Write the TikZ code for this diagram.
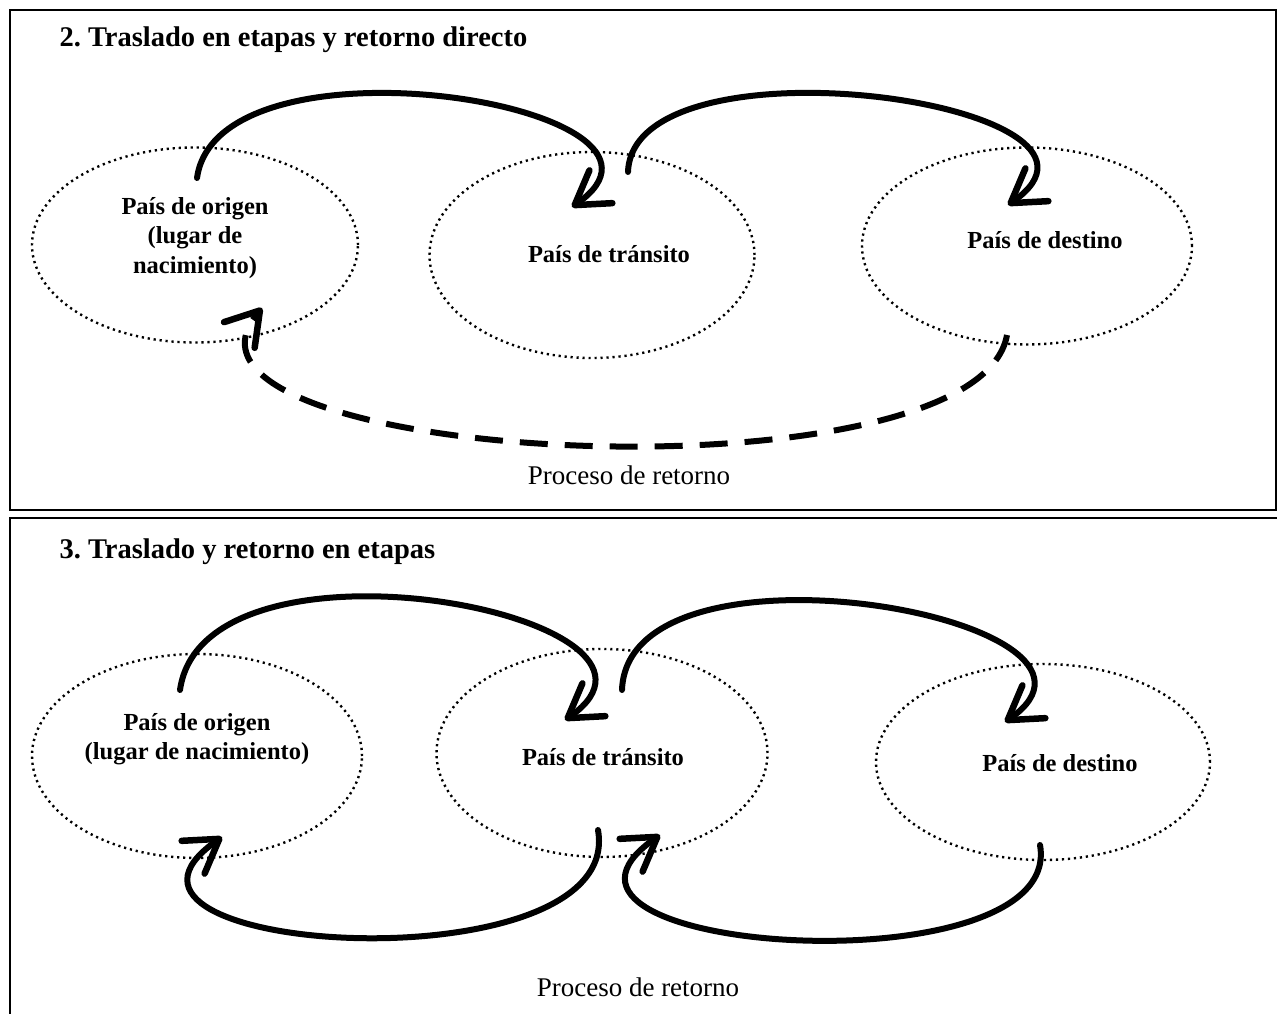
\documentclass[tikz,border=0pt]{standalone}
\usepackage{fontspec}
\setmainfont{Liberation Serif}
\usetikzlibrary{shapes.geometric,arrows.meta}

\begin{document}
\begin{tikzpicture}[x=1pt,y=1pt,
    pais/.style={ellipse,draw,line width=2.4pt,dash pattern=on 2.2pt off 3.8pt,inner sep=0pt},
    etiq/.style={font=\fontsize{24.5}{29.5}\selectfont\bfseries,align=center},
    titulo/.style={anchor=west,font=\fontsize{28.5}{33}\selectfont\bfseries\frenchspacing},
    pie/.style={font=\fontsize{27}{32}\selectfont},
    flecha/.style={line width=6pt,line cap=round,
        -{Straight Barb[length=32pt,width=40pt,line width=6.5pt,round]}},
    ida/.style={flecha,in=35,out looseness=1.05,in looseness=1.2},
    vuelta/.style={flecha,out=-80,in=215,out looseness=1.1,in looseness=1.4}]

    \useasboundingbox (0,0) rectangle (1277,1014);
    \draw [line width=1.5pt] (10,504) rectangle (1276,1004);
    \draw [line width=2.5pt] (1277,496) -- (10,496) -- (10,0);

    \node [titulo] (t2) at (56,974) {2. Traslado en etapas y retorno directo};
    \node [pais, minimum width=326pt, minimum height=195pt] (o1) at (195,769) {};
    \node [pais, minimum width=325pt, minimum height=206pt] (m1) at (592,759) {};
    \node [pais, minimum width=330pt, minimum height=197pt] (d1) at (1027,768) {};
    \node [etiq] (a) at (195,776) {País de origen\\(lugar de\\nacimiento)};
    \node [etiq] (b) at (609,760) {País de tránsito};
    \node [etiq] (c) at (1045,774) {País de destino};
    \node [pie] (p1) at (629,539) {Proceso de retorno};

    \coordinate (s1) at (197,836);
    \coordinate (e1) at (572,807);
    \coordinate (s2) at (628,842);
    \coordinate (e2) at (1008,809);
    \coordinate (s3) at (1007,679);
    \coordinate (e3) at (262,706);

    \draw [ida] (s1) to [out=82] (e1);
    \draw [ida] (s2) to [out=88,out looseness=0.95] (e2);
    \draw [flecha,line cap=butt,dash pattern=on 28pt off 17pt] (s3)
        to [out=-100,in=230,out looseness=0.6,in looseness=0.7] (e3);

    \node [titulo] (t3) at (56,462) {3. Traslado y retorno en etapas};
    \node [pais, minimum width=330pt, minimum height=204pt] (o2) at (197,258) {};
    \node [pais, minimum width=331pt, minimum height=208pt] (m2) at (602,261) {};
    \node [pais, minimum width=334pt, minimum height=196pt] (d2) at (1043,252) {};
    \node [etiq] (f) at (197,275) {País de origen\\(lugar de nacimiento)};
    \node [etiq] (g) at (603,257) {País de tránsito};
    \node [etiq] (h) at (1060,251) {País de destino};
    \node [pie] (p2) at (638,27) {Proceso de retorno};

    \coordinate (s4) at (180,324);
    \coordinate (e4) at (565,294);
    \coordinate (s5) at (622,324);
    \coordinate (e5) at (1005,292);
    \coordinate (s6) at (598,184);
    \coordinate (e6) at (222,177);
    \coordinate (s7) at (1040,169);
    \coordinate (e7) at (660,179);

    \draw [ida] (s4) to [out=82,out looseness=1.15] (e4);
    \draw [ida] (s5) to [out=88,out looseness=1.1] (e5);
    \draw [vuelta] (s6) to (e6);
    \draw [vuelta] (s7) to [out looseness=1] (e7);

\end{tikzpicture}
\end{document}
